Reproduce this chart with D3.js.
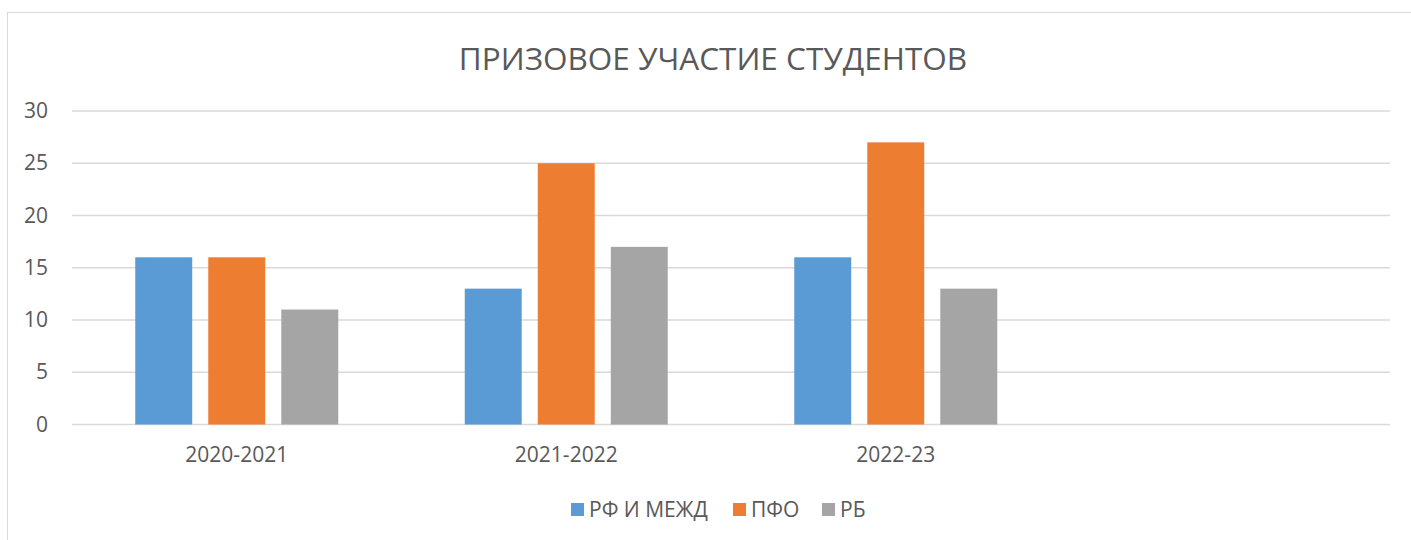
<!DOCTYPE html>
<html>
<head>
<meta charset="utf-8">
<script src="https://cdn.jsdelivr.net/npm/d3@7"></script>
<style>
  body { margin: 0; background: #fff; }
  text { font-family: "Open Sans", "DejaVu Sans", sans-serif; fill: #595959; }
</style>
</head>
<body>
<svg width="1411" height="540"></svg>
<script>
const categories = ["2020-2021", "2021-2022", "2022-23", ""];
const seriesNames = ["РФ И МЕЖД", "ПФО", "РБ"];
const rfValues = [16, 13, 16, null];
const pfoValues = [16, 25, 27, null];
const rbValues = [11, 17, 13, null];
const yTicks = [0, 5, 10, 15, 20, 25, 30];
const colors = ["#5b9bd5", "#ed7d31", "#a5a5a5"];

const svg = d3.select("svg");
const width = +svg.attr("width");
const margin = { left: 72, right: 21, top: 111, bottom: 115 };
const innerW = width - margin.left - margin.right;
const innerH = 540 - margin.top - margin.bottom - 0.5;

// chart frame
svg.append("rect")
  .attr("x", 7.5).attr("y", 12.5)
  .attr("width", 1420).attr("height", 560)
  .attr("fill", "none").attr("stroke", "#d9d9d9");

svg.append("text")
  .attr("x", 713).attr("y", 70)
  .attr("text-anchor", "middle")
  .attr("font-size", 31.5)
  .text("ПРИЗОВОЕ УЧАСТИЕ СТУДЕНТОВ");

const g = svg.append("g").attr("transform", `translate(${margin.left},${margin.top})`);

const x = d3.scaleBand().domain(categories).range([0, innerW]);
const y = d3.scaleLinear().domain([0, 30]).range([innerH, 0]);
const xInner = d3.scaleBand().domain(seriesNames).range([0, 203]).paddingInner(0.22);

// gridlines
g.selectAll(".grid")
  .data(yTicks)
  .enter()
  .append("line")
  .attr("x1", 0).attr("x2", innerW)
  .attr("y1", (d) => y(d)).attr("y2", (d) => y(d))
  .attr("stroke", "#d9d9d9").attr("stroke-width", 1.3);

const yAxis = d3.axisLeft(y).tickValues(yTicks).tickSize(0).tickPadding(24);
g.append("g").call(yAxis)
  .call((a) => a.select(".domain").remove())
  .selectAll("text").attr("font-size", 21).style("fill", "#595959")
  .attr("font-family", "Open Sans");

const xAxis = d3.axisBottom(x).tickSize(0).tickPadding(23);
g.append("g").attr("transform", `translate(0,${innerH})`).call(xAxis)
  .call((a) => a.select(".domain").remove())
  .selectAll("text").attr("font-size", 21).style("fill", "#595959")
  .attr("font-family", "Open Sans");

const series = [rfValues, pfoValues, rbValues];
series.forEach((vals, si) => {
  g.append("g")
    .selectAll("rect")
    .data(categories.map((c, i) => ({ c, v: vals[i] })).filter((d) => d.v != null))
    .enter()
    .append("rect")
    .attr("x", (d) => x(d.c) + x.bandwidth() / 2 - 101.5 + xInner(seriesNames[si]))
    .attr("width", xInner.bandwidth())
    .attr("y", (d) => y(d.v))
    .attr("height", (d) => y(0) - y(d.v))
    .attr("fill", colors[si]);
});

// legend
const legendX = [571, 733, 822];
const legend = svg.append("g");
seriesNames.forEach((name, i) => {
  legend.append("rect")
    .attr("x", legendX[i]).attr("y", 503)
    .attr("width", 13).attr("height", 13)
    .attr("fill", colors[i]);
  legend.append("text")
    .attr("x", legendX[i] + 18).attr("y", 517)
    .attr("font-size", 21)
    .text(name);
});
</script>
</body>
</html>
